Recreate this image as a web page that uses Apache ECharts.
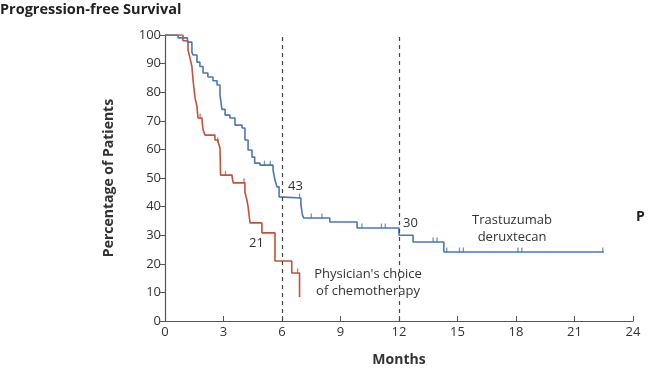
<!DOCTYPE html>
<html><head><meta charset="utf-8">
<script src="https://cdn.jsdelivr.net/npm/echarts@6/dist/echarts.min.js"></script>
<style>html,body{margin:0;padding:0;background:#fff}#c{width:648px;height:374px}</style>
</head><body><div id="c"></div>
<script>
// Trastuzumab deruxtecan: [months, percent]
const tdxdSteps = [[0,100],[0.67,99],[1.15,97.5],[1.38,94],[1.44,93],[1.64,90.5],[1.79,89],[1.95,86.7],[2.2,85.3],[2.46,84],[2.67,82.5],[2.82,79],[2.92,74],[3.08,72],[3.33,71],[3.59,68.5],[3.95,67.5],[4.1,63.3],[4.26,59.8],[4.46,57.3],[4.6,55.2],[4.87,54.5],[5.54,52.8],[5.64,49.3],[5.74,46.9],[5.85,43.4],[5.9,43],[6.97,40.6],[7.05,37],[7.12,36],[8.45,34.6],[9.85,32.5],[12.0,30],[12.72,27.6],[14.3,24.1],[22.5,24.1]];
const tdxdCensor = [[5.1,54.5],[5.4,54.5],[6.9,43],[7.5,36],[8.05,36],[10.1,32.5],[11.1,32.5],[11.3,32.5],[13.75,27.6],[13.95,27.6],[14.45,24.1],[15.1,24.1],[15.3,24.1],[18.1,24.1],[18.3,24.1],[22.45,24.1]];
// Physician's choice of chemotherapy
const chemoSteps = [[0,100],[0.92,98],[1.18,94.7],[1.28,92],[1.38,89],[1.44,84],[1.54,78],[1.64,75],[1.69,71],[1.9,70],[1.95,67],[2.05,65],[2.56,63.3],[2.72,62.6],[2.82,60.5],[2.85,51],[3.44,50.3],[3.5,48.3],[4.1,45],[4.2,42.3],[4.26,40],[4.36,34.3],[4.97,30.8],[5.64,21],[6.5,16.8],[6.9,8.4]];
const chemoCensor = [[1.8,71],[2.7,62.6],[3.1,51],[4.05,48.3],[6.8,16.8]];
const xTicks = [0,3,6,9,12,15,18,21,24];
const yTicks = [0,10,20,30,40,50,60,70,80,90,100];
const refLines = [6,12];

const blue = '#4a78b4', red = '#c4513b';
const font = '"Open Sans", "Noto Sans", sans-serif';
const chart = echarts.init(document.getElementById('c'));
chart.setOption({
  animation:false,
  grid:{left:165,right:15,top:35,bottom:53},
  xAxis:{type:'value',min:0,max:24,interval:3,
    axisLine:{lineStyle:{color:'#555',width:1.2}},
    axisTick:{inside:true,length:5,lineStyle:{color:'#555'}},
    axisLabel:{color:'#333',fontSize:13,fontFamily:font,margin:5},
    splitLine:{show:false},
    name:'Months',nameLocation:'middle',nameGap:32,
    nameTextStyle:{color:'#333',fontSize:14,fontWeight:'bold',fontFamily:font}},
  yAxis:{type:'value',min:0,max:100,interval:10,
    axisLine:{show:true,lineStyle:{color:'#555',width:1.2}},
    axisTick:{show:true,length:5,lineStyle:{color:'#555'}},
    axisLabel:{color:'#333',fontSize:13,fontFamily:font,margin:4},
    splitLine:{show:false},
    name:'Percentage of Patients',nameLocation:'middle',nameGap:49,
    nameTextStyle:{color:'#333',fontSize:14,fontWeight:'bold',fontFamily:font}},
  series:[
    {type:'line',data:refLines.map(v=>[v,0]),symbol:'none',lineStyle:{width:0},silent:true,
      markLine:{symbol:'none',silent:true,label:{show:false},
        lineStyle:{type:[4,4],color:'#444',width:1.2},
        data:refLines.map(v=>[{coord:[v,0]},{coord:[v,100]}])}},
    {type:'line',step:'end',data:chemoSteps,symbol:'none',lineStyle:{color:red,width:1.6}},
    {type:'line',step:'end',data:tdxdSteps,symbol:'none',lineStyle:{color:blue,width:1.6}},
    {type:'scatter',data:chemoCensor,symbol:'rect',symbolSize:[1.3,5],symbolOffset:[0,-2],itemStyle:{color:red}},
    {type:'scatter',data:tdxdCensor,symbol:'rect',symbolSize:[1.3,5],symbolOffset:[0,-2],itemStyle:{color:blue}}
  ],
  graphic:[
    {type:'text',left:0,top:2,style:{text:'Progression-free Survival',font:'bold 14.5px '+font,fill:'#222'}},
    {type:'text',x:288,y:180,style:{text:'43',font:'13px '+font,fill:'#333'}},
    {type:'text',x:403,y:217,style:{text:'30',font:'13px '+font,fill:'#333'}},
    {type:'text',x:249,y:237,style:{text:'21',font:'13px '+font,fill:'#333'}},
    {type:'text',x:512,y:212,style:{text:'Trastuzumab\nderuxtecan',font:'13px '+font,fill:'#333',align:'center',lineHeight:17}},
    {type:'text',x:368,y:266,style:{text:"Physician's choice\nof chemotherapy",font:'13px '+font,fill:'#333',align:'center',lineHeight:17}},
    {type:'text',x:636,y:210,style:{text:'P',font:'bold 14px '+font,fill:'#222'}}
  ]
});
</script></body></html>
